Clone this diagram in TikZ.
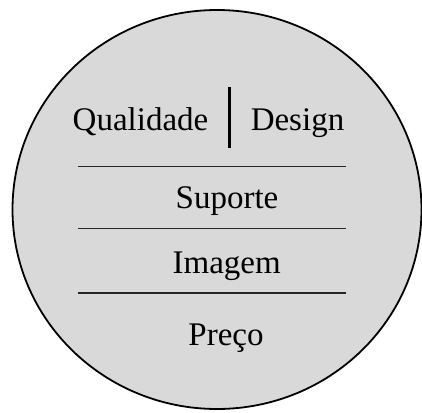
\documentclass[tikz,border=0pt]{standalone}
\usepackage{fontspec}
\setmainfont{Liberation Serif}
\definecolor{circfill}{HTML}{D9D9D9}
\begin{document}
\begin{tikzpicture}[x=1pt,y=-1pt,
  lbl/.style={anchor=base,inner sep=0pt,font=\fontsize{33}{36}\selectfont},
  sep/.style={draw=black!85,line width=1.3pt},
  bar/.style={draw=black,line width=2.8pt}]
\useasboundingbox (0,0) rectangle (422,412);
\draw[fill=circfill,line width=1.8pt] (217,209.5) ellipse [x radius=204.5, y radius=199.5];
\node[lbl] (qual) at (140.5,130) {Qualidade};
\node[lbl] (des) at (297.5,130) {Design};
\node[lbl] (sup) at (227,208) {Suporte};
\node[lbl] (img) at (226.7,273) {Imagem};
\node[lbl] (pre) at (226,345) {Preço};
\coordinate (b1) at (229.5,87);
\coordinate (b2) at (229.5,148);
\draw[bar] (b1) -- (b2);
\coordinate (l1a) at (78,166.5); \coordinate (l1b) at (346,166.5);
\coordinate (l2a) at (78,228.5); \coordinate (l2b) at (346,228.5);
\coordinate (l3a) at (78,293); \coordinate (l3b) at (346,293);
\draw[sep] (l1a) -- (l1b);
\draw[sep] (l2a) -- (l2b);
\draw[sep] (l3a) -- (l3b);
\end{tikzpicture}
\end{document}
